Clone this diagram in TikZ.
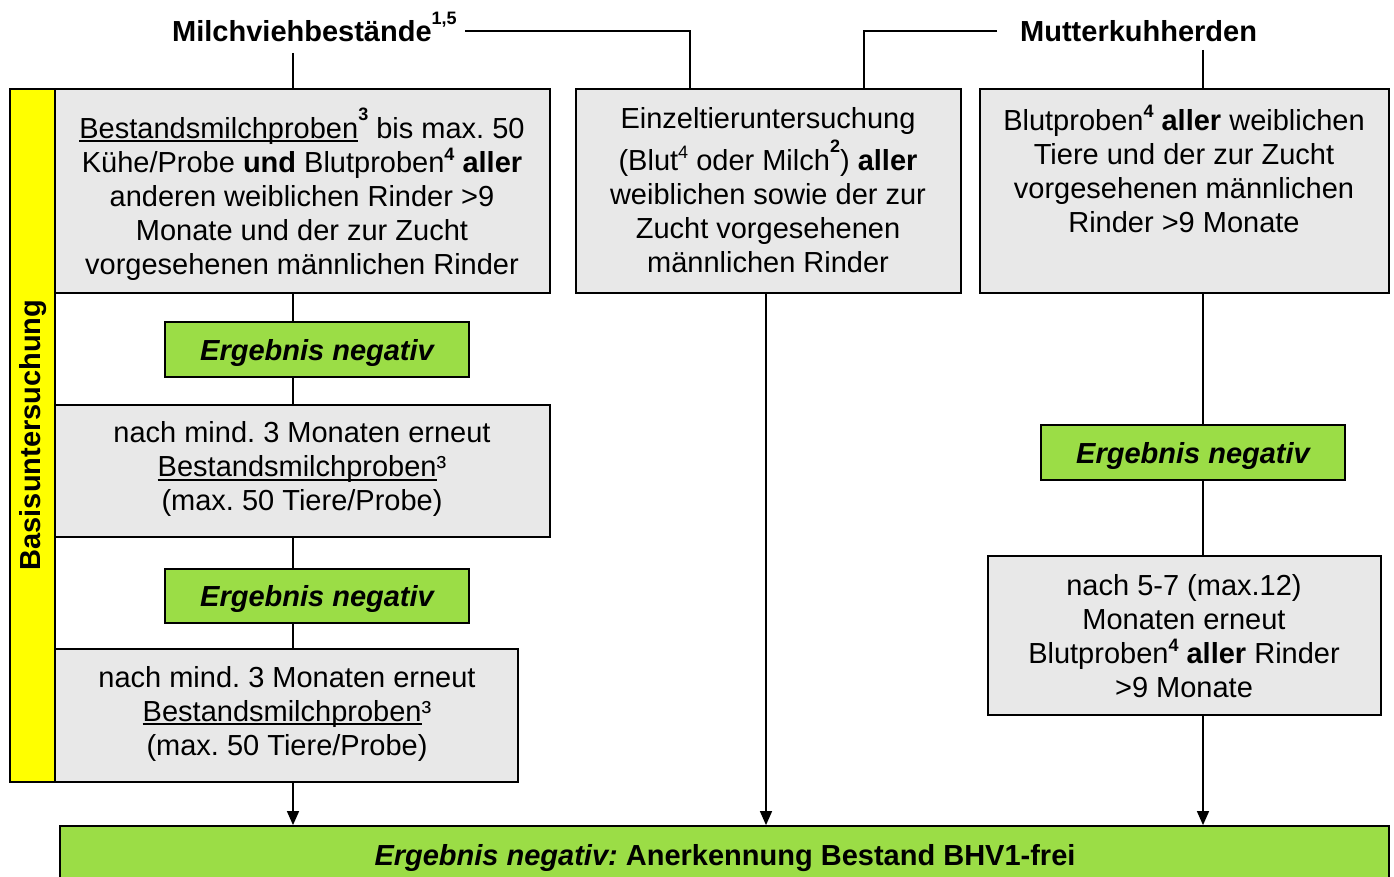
\documentclass[tikz,border=0pt]{standalone}
\usepackage{fontspec}
\setmainfont{Liberation Sans}
\usetikzlibrary{arrows.meta}
\frenchspacing
\definecolor{boxgray}{RGB}{232,232,232}
\definecolor{resgreen}{RGB}{155,221,70}
\definecolor{basisyellow}{RGB}{255,255,0}
\newcommand\bsup[1]{\raisebox{0.42em}{\fontsize{18}{18}\selectfont\bfseries #1}}
\newcommand\hsup[1]{\raisebox{0.62em}{\fontsize{18}{18}\selectfont\bfseries #1}}
\newcommand\rsup[1]{\raisebox{0.42em}{\fontsize{18}{18}\selectfont #1}}
\newcommand\ulx[1]{\setbox0\hbox{#1}\rlap{\rule[-4pt]{\wd0}{1.8pt}}\box0}
\begin{document}
\begin{tikzpicture}[x=1pt,y=-1pt,font=\fontsize{29}{34}\selectfont,
  box/.style={draw=black,line width=1.8pt,fill=boxgray,inner sep=0pt},
  res/.style={draw=black,line width=1.8pt,fill=resgreen,inner sep=0pt,text depth=0pt,font=\fontsize{29}{34}\selectfont\bfseries\itshape},
  txt/.style={align=center,inner sep=0pt},
  hdr/.style={inner sep=0pt,anchor=base west,font=\fontsize{29}{34}\selectfont\bfseries},
  conn/.style={line width=1.5pt},
  arr/.style={line width=1.5pt,-{Triangle[width=12pt,length=14pt]}}]
\clip (0,0) rectangle (1394,877);
\fill[white] (0,0) rectangle (1394,877);

% headers
\node[hdr] (mh) at (172,42) {Milchviehbestände\hsup{1,5}};
\node[hdr] (mk) at (1020,42) {Mutterkuhherden};

% yellow side bar
\node[draw=black,line width=1.8pt,fill=basisyellow,minimum width=45,minimum height=693,inner sep=0pt] (ybar) at (32.5,435.5) {};
\node[rotate=90,inner sep=0pt,font=\fontsize{29}{34}\selectfont\bfseries] (basis) at (33,435) {Basisuntersuchung};

% left column
\node[box,minimum width=495,minimum height=204] (b1) at (302.5,191) {};
\node[txt] (b1t) at (302,194) {\ulx{Bestandsmilchproben}\hsup{3} bis max. 50\\ Kühe/Probe \textbf{und} Blutproben\bsup{4} \textbf{aller}\\ anderen weiblichen Rinder >9\\ Monate und der zur Zucht\\ vorgesehenen männlichen Rinder};
\node[res,minimum width=304,minimum height=55] (e1) at (317,349.5) {Ergebnis negativ};
\node[box,minimum width=495,minimum height=132] (b2) at (302.5,471) {};
\node[txt] (b2t) at (302,469) {nach mind. 3 Monaten erneut\\ \ulx{Bestandsmilchproben}³\\ (max. 50 Tiere/Probe)};
\node[res,minimum width=304,minimum height=54] (e2) at (317,596) {Ergebnis negativ};
\node[box,minimum width=463,minimum height=133] (b3) at (286.5,715.5) {};
\node[txt] (b3t) at (287,713.5) {nach mind. 3 Monaten erneut\\ \ulx{Bestandsmilchproben}³\\ (max. 50 Tiere/Probe)};

% middle column
\node[box,minimum width=385,minimum height=204] (mid) at (768.5,191) {};
\node[txt] (midt) at (768,190) {Einzeltieruntersuchung\\[5pt] (Blut\rsup{4} oder Milch\hsup{2}) \textbf{aller}\\ weiblichen sowie der zur\\ Zucht vorgesehenen\\ männlichen Rinder};

% right column
\node[box,minimum width=409,minimum height=204] (r1) at (1184.5,191) {};
\node[txt] (r1t) at (1184,169) {Blutproben\bsup{4} \textbf{aller} weiblichen\\ Tiere und der zur Zucht\\ vorgesehenen männlichen\\ Rinder >9 Monate};
\node[res,minimum width=304,minimum height=55] (e3) at (1193,452.5) {Ergebnis negativ};
\node[box,minimum width=393,minimum height=159] (r2) at (1184.5,635.5) {};
\node[txt] (r2t) at (1184,636) {nach 5-7 (max.12)\\ Monaten erneut\\ Blutproben\bsup{4} \textbf{aller} Rinder\\ >9 Monate};

% bottom bar
\node[draw=black,line width=1.8pt,fill=resgreen,minimum width=1329,minimum height=80,inner sep=0pt] (bar) at (724.5,866) {};
\node[inner sep=0pt,font=\fontsize{29}{34}\selectfont\bfseries] (bart) at (725,858) {\textit{Ergebnis negativ:} Anerkennung Bestand BHV1-frei};

% connectors
\coordinate (L) at (293,53);
\coordinate (M) at (766,0);
\coordinate (R) at (1203,50);
\coordinate (mA) at (465,31);
\coordinate (mB) at (690,31);
\coordinate (kA) at (997,31);
\coordinate (kB) at (864,31);

\draw[conn] (L) -- (L |- b1.north);
\draw[conn] (L |- b1.south) -- (L |- e1.north);
\draw[conn] (L |- e1.south) -- (L |- b2.north);
\draw[conn] (L |- b2.south) -- (L |- e2.north);
\draw[conn] (L |- e2.south) -- (L |- b3.north);
\draw[arr] (L |- b3.south) -- (L |- bar.north);

\draw[conn] (mA) -- (mB) -- (mB |- mid.north);
\draw[conn] (kA) -- (kB) -- (kB |- mid.north);
\draw[arr] (M |- mid.south) -- (M |- bar.north);

\draw[conn] (R) -- (R |- r1.north);
\draw[conn] (R |- r1.south) -- (R |- e3.north);
\draw[conn] (R |- e3.south) -- (R |- r2.north);
\draw[arr] (R |- r2.south) -- (R |- bar.north);
\end{tikzpicture}
\end{document}
